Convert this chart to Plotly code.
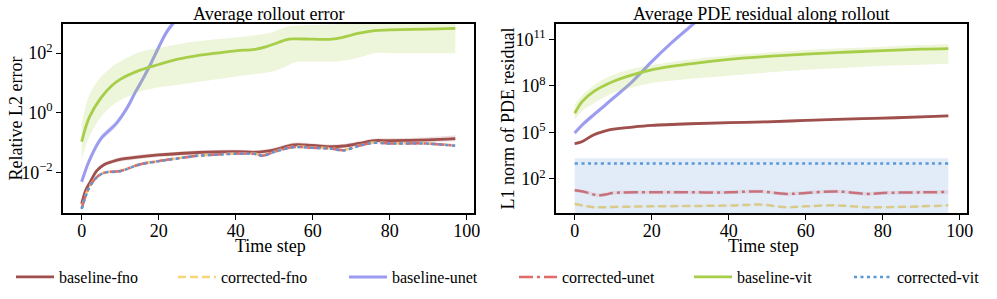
import plotly.graph_objects as go

# ---------------- data ----------------
# Left panel: Average rollout error (Relative L2 error)
T_FNO_L = [0, 1, 2, 4, 6, 8, 10, 15, 20, 30, 40, 45, 47, 50, 55, 60, 65, 68, 72, 76, 80, 90, 97]
FNO_L = [8.7e-4, 2.4e-3, 4.2e-3, 1.15e-2, 1.85e-2, 2.29e-2, 2.7e-2, 3.3e-2, 3.8e-2, 4.6e-2, 4.9e-2,
         4.68e-2, 4.9e-2, 5.6e-2, 8.3e-2, 7.9e-2, 7.2e-2, 7.6e-2, 9.3e-2, 0.115, 0.115, 0.123, 0.135]
FNO_L_LO = [7.2e-4, 2.0e-3, 3.5e-3, 9.8e-3, 1.58e-2, 1.95e-2, 2.3e-2, 2.8e-2, 3.25e-2, 3.9e-2, 4.2e-2,
            4.0e-2, 4.2e-2, 4.8e-2, 7.1e-2, 6.7e-2, 6.1e-2, 6.5e-2, 7.9e-2, 9.7e-2, 9.7e-2, 0.102, 0.11]
FNO_L_HI = [1.05e-3, 2.9e-3, 5.0e-3, 1.36e-2, 2.18e-2, 2.7e-2, 3.2e-2, 3.9e-2, 4.45e-2, 5.4e-2, 5.7e-2,
            5.5e-2, 5.7e-2, 6.6e-2, 9.7e-2, 9.3e-2, 8.5e-2, 8.9e-2, 0.109, 0.137, 0.138, 0.15, 0.17]

T_COR_L = [0, 1, 2, 4, 6, 10, 15, 20, 25, 30, 35, 40, 45, 47, 50, 55, 60, 65, 68, 72, 76, 80, 90, 97]
CFNO_L = [6.2e-4, 1.6e-3, 3.3e-3, 7.1e-3, 9.8e-3, 1.1e-2, 1.85e-2, 2.4e-2, 2.95e-2, 3.63e-2, 3.98e-2, 4.27e-2,
          4.2e-2, 3.7e-2, 4.9e-2, 7.2e-2, 6.8e-2, 6.3e-2, 5.6e-2, 7.9e-2, 0.1, 9.5e-2, 9.3e-2, 7.9e-2]
CUNET_L = [6.0e-4, 1.55e-3, 3.2e-3, 7.0e-3, 9.7e-3, 1.1e-2, 1.82e-2, 2.36e-2, 2.92e-2, 3.58e-2, 3.93e-2, 4.2e-2,
           4.13e-2, 3.6e-2, 4.85e-2, 7.0e-2, 6.6e-2, 6.2e-2, 5.5e-2, 7.8e-2, 9.8e-2, 9.3e-2, 9.2e-2, 7.8e-2]
CUNET_L_LO = [5.2e-4, 1.35e-3, 2.8e-3, 6.2e-3, 8.5e-3, 9.7e-3, 1.6e-2, 2.08e-2, 2.57e-2, 3.15e-2, 3.46e-2, 3.7e-2,
              3.63e-2, 3.17e-2, 4.3e-2, 6.2e-2, 5.8e-2, 5.5e-2, 4.85e-2, 6.9e-2, 8.6e-2, 8.2e-2, 8.1e-2, 6.9e-2]
CUNET_L_HI = [6.9e-4, 1.78e-3, 3.6e-3, 7.9e-3, 1.1e-2, 1.25e-2, 2.06e-2, 2.67e-2, 3.3e-2, 4.05e-2, 4.44e-2, 4.75e-2,
              4.67e-2, 4.07e-2, 5.5e-2, 7.9e-2, 7.5e-2, 7.0e-2, 6.2e-2, 8.8e-2, 0.111, 0.105, 0.104, 8.8e-2]
CVIT_L = [5.9e-4, 1.5e-3, 3.1e-3, 6.9e-3, 9.6e-3, 1.08e-2, 1.8e-2, 2.34e-2, 2.9e-2, 3.55e-2, 3.9e-2, 4.17e-2,
          4.1e-2, 3.57e-2, 4.8e-2, 6.9e-2, 6.6e-2, 6.1e-2, 5.4e-2, 7.7e-2, 9.7e-2, 9.2e-2, 9.1e-2, 7.7e-2]

T_UNET_L = [0, 2, 5, 7, 9, 12, 14, 16, 18, 20, 22, 24, 26, 28]
UNET_L = [4.8e-3, 0.025, 0.135, 0.245, 0.437, 1.62, 5.1, 14.5, 45.7, 158, 500, 1120, 2500, 6300]
UNET_L_LO = [3.7e-3, 0.0195, 0.105, 0.19, 0.34, 1.26, 4.0, 11.3, 35.6, 123, 390, 874, 1950, 4900]
UNET_L_HI = [6.1e-3, 0.032, 0.173, 0.314, 0.56, 2.07, 6.5, 18.6, 58.5, 202, 640, 1430, 3200, 8060]

T_VIT_L = [0, 2, 5, 8, 10, 15, 20, 25, 30, 35, 40, 45, 48, 50, 53, 55, 60, 65, 68, 72, 76, 80, 90, 97]
VIT_L = [0.107, 0.71, 3.16, 8.5, 13.2, 26.3, 41.7, 63, 83, 100, 120, 135, 166, 204, 282, 302, 295, 295,
         347, 468, 575, 603, 646, 676]
VIT_L_LO = [0.026, 0.158, 0.71, 1.78, 2.63, 5.0, 7.1, 8.7, 10.7, 13.2, 16.6, 20, 22.4, 25.1, 35.5, 48, 52, 52,
            56, 71, 100, 100, 100, 100]
VIT_L_HI = [0.4, 4.0, 15.8, 35.5, 52, 107, 148, 200, 251, 295, 339, 400, 457, 537, 760, 830, 890, 930,
            1100, 1400, 1600, 1600, 1600, 1600]

# Right panel: Average PDE residual along rollout (L1 norm)
T_FNO_R = [0, 2, 5, 8, 10, 15, 20, 30, 40, 50, 60, 70, 80, 90, 97]
FNO_R = [1.86e4, 2.6e4, 7.1e4, 1.26e5, 1.6e5, 2.2e5, 2.8e5, 3.6e5, 4.2e5, 4.8e5, 5.9e5, 7.1e5, 8.3e5, 1.0e6, 1.17e6]
FNO_R_LO = [1.5e4, 2.1e4, 5.8e4, 1.03e5, 1.3e5, 1.8e5, 2.3e5, 2.95e5, 3.4e5, 3.9e5, 4.8e5, 5.8e5, 6.8e5, 8.2e5, 9.4e5]
FNO_R_HI = [2.25e4, 3.1e4, 8.6e4, 1.52e5, 1.95e5, 2.65e5, 3.4e5, 4.35e5, 5.1e5, 5.8e5, 7.1e5, 8.6e5, 1.0e6, 1.22e6, 1.42e6]

T_CFNO_R = [0, 3, 5, 10, 20, 40, 48, 55, 60, 68, 76, 90, 97]
CFNO_R = [2.57, 1.74, 1.51, 1.58, 1.74, 1.95, 2.24, 1.51, 1.74, 2.0, 1.51, 1.74, 2.0]
CFNO_R_LO = [2.3, 1.57, 1.36, 1.42, 1.57, 1.75, 2.0, 1.36, 1.57, 1.8, 1.36, 1.57, 1.8]
CFNO_R_HI = [2.85, 1.93, 1.68, 1.75, 1.93, 2.16, 2.48, 1.68, 1.93, 2.22, 1.68, 1.93, 2.22]

T_UNET_R = [0, 2, 5, 8, 10, 15, 20, 25, 30, 35]
UNET_R = [9.1e4, 3.1e5, 1.4e6, 6e6, 1.6e7, 1.9e8, 3.6e9, 5.5e10, 6.5e11, 8e12]
UNET_R_LO = [6.4e4, 2.2e5, 9.8e5, 4.2e6, 1.12e7, 1.33e8, 2.5e9, 3.85e10, 4.5e11, 5.6e12]
UNET_R_HI = [1.27e5, 4.3e5, 1.96e6, 8.4e6, 2.24e7, 2.66e8, 5e9, 7.7e10, 9.1e11, 1.12e13]

T_CUNET_R = [0, 3, 6, 8, 10, 20, 30, 40, 48, 55, 60, 68, 76, 80, 90, 97]
CUNET_R = [18.6, 13.8, 8.9, 10, 12.6, 13.8, 13.8, 13.8, 15.8, 11, 12.6, 15.8, 11, 12.6, 13.8, 14.5]
CUNET_R_LO = [14, 10.4, 6.7, 7.5, 9.5, 10.4, 10.4, 10.4, 11.9, 8.3, 9.5, 11.9, 8.3, 9.5, 10.4, 10.9]
CUNET_R_HI = [24.7, 18.4, 11.8, 13.3, 16.8, 18.4, 18.4, 18.4, 21, 14.6, 16.8, 21, 14.6, 16.8, 18.4, 19.3]

T_VIT_R = [0, 2, 5, 10, 15, 20, 30, 40, 50, 60, 70, 80, 90, 97]
VIT_R = [1.7e6, 1e7, 4.4e7, 1.9e8, 5.1e8, 1.07e9, 2.6e9, 5.1e9, 7.8e9, 1.1e10, 1.45e10, 1.86e10, 2.3e10, 2.5e10]
VIT_R_LO = [6.5e5, 2.5e6, 7.6e6, 3.4e7, 7.9e7, 1.5e8, 2.8e8, 4.4e8, 7.1e8, 1.07e9, 1.4e9, 1.95e9, 2.3e9, 2.6e9]
VIT_R_HI = [6e6, 2.5e7, 1.1e8, 5.1e8, 1.26e9, 2.2e9, 5e9, 8.9e9, 1.4e10, 2e10, 2.6e10, 3.3e10, 4.2e10, 4.8e10]

T_CVIT_R = [0, 20, 40, 60, 80, 97]
CVIT_R = [980, 980, 980, 980, 980, 980]
CVIT_R_LO = [1e-3, 1e-3, 1e-3, 1e-3, 1e-3, 1e-3]
CVIT_R_HI = [2.2e3, 2.2e3, 2.2e3, 2.2e3, 2.2e3, 2.2e3]

NAMES = ["baseline-fno", "corrected-fno", "baseline-unet", "corrected-unet", "baseline-vit", "corrected-vit"]
LEFT_TICKS = [1e-2, 1, 1e2]
LEFT_TICKTEXT = ["10<sup>\u22122</sup>", "10<sup>0</sup>", "10<sup>2</sup>"]
RIGHT_TICKS = [1e2, 1e5, 1e8, 1e11]
RIGHT_TICKTEXT = ["10<sup>2</sup>", "10<sup>5</sup>", "10<sup>8</sup>", "10<sup>11</sup>"]
X_TICKS = [0, 20, 40, 60, 80, 100]

# ---------------- styles ----------------
COL = {
    "baseline-fno": (160, 80, 76),
    "corrected-fno": (246, 214, 120),
    "baseline-unet": (155, 156, 240),
    "corrected-unet": (224, 106, 106),
    "baseline-vit": (166, 206, 72),
    "corrected-vit": (88, 152, 216),
}
DASH = {
    "baseline-fno": "solid",
    "corrected-fno": "8px,4px",
    "baseline-unet": "solid",
    "corrected-unet": "14px,4px,3px,4px",
    "baseline-vit": "solid",
    "corrected-vit": "3px,3.5px",
}
WIDTH = {
    "baseline-fno": 2.8, "corrected-fno": 2.5, "baseline-unet": 3.0,
    "corrected-unet": 2.5, "baseline-vit": 2.8, "corrected-vit": 2.5,
}
LEGEND_ID = {n: ("legend" if i == 0 else "legend%d" % (i + 1)) for i, n in enumerate(NAMES)}
LEGEND_X = [11, 173, 344, 514, 689, 849]
FONT = "Liberation Serif, Times New Roman, serif"


def rgba(c, a):
    return "rgba(%d,%d,%d,%s)" % (c[0], c[1], c[2], a)


fig = go.Figure()


def add_band(t, lo, hi, name, xa, ya, alpha=0.2):
    fig.add_trace(go.Scatter(x=t, y=lo, mode="lines", line=dict(width=0, shape="spline"),
                             xaxis=xa, yaxis=ya, showlegend=False, hoverinfo="skip"))
    fig.add_trace(go.Scatter(x=t, y=hi, mode="lines", line=dict(width=0, shape="spline"),
                             fill="tonexty", fillcolor=rgba(COL[name], alpha),
                             xaxis=xa, yaxis=ya, showlegend=False, hoverinfo="skip"))


def add_line(t, v, name, xa, ya, legend):
    fig.add_trace(go.Scatter(x=t, y=v, mode="lines", name=name, legendgroup=name,
                             legend=LEGEND_ID[name],
                             line=dict(color=rgba(COL[name], 1), width=WIDTH[name],
                                       dash=DASH[name], shape="spline", smoothing=1.0),
                             xaxis=xa, yaxis=ya, showlegend=legend))


# left panel
add_band(T_FNO_L, FNO_L_LO, FNO_L_HI, "baseline-fno", "x", "y")
add_line(T_FNO_L, FNO_L, "baseline-fno", "x", "y", True)
add_line(T_COR_L, CFNO_L, "corrected-fno", "x", "y", True)
add_band(T_UNET_L, UNET_L_LO, UNET_L_HI, "baseline-unet", "x", "y")
add_line(T_UNET_L, UNET_L, "baseline-unet", "x", "y", True)
add_band(T_COR_L, CUNET_L_LO, CUNET_L_HI, "corrected-unet", "x", "y", 0.12)
add_line(T_COR_L, CUNET_L, "corrected-unet", "x", "y", True)
add_band(T_VIT_L, VIT_L_LO, VIT_L_HI, "baseline-vit", "x", "y")
add_line(T_VIT_L, VIT_L, "baseline-vit", "x", "y", True)
add_line(T_COR_L, CVIT_L, "corrected-vit", "x", "y", True)

# right panel
add_band(T_FNO_R, FNO_R_LO, FNO_R_HI, "baseline-fno", "x2", "y2")
add_line(T_FNO_R, FNO_R, "baseline-fno", "x2", "y2", False)
add_band(T_CFNO_R, CFNO_R_LO, CFNO_R_HI, "corrected-fno", "x2", "y2", 0.15)
add_line(T_CFNO_R, CFNO_R, "corrected-fno", "x2", "y2", False)
add_band(T_UNET_R, UNET_R_LO, UNET_R_HI, "baseline-unet", "x2", "y2")
add_line(T_UNET_R, UNET_R, "baseline-unet", "x2", "y2", False)
add_band(T_CUNET_R, CUNET_R_LO, CUNET_R_HI, "corrected-unet", "x2", "y2", 0.15)
add_line(T_CUNET_R, CUNET_R, "corrected-unet", "x2", "y2", False)
add_band(T_VIT_R, VIT_R_LO, VIT_R_HI, "baseline-vit", "x2", "y2")
add_line(T_VIT_R, VIT_R, "baseline-vit", "x2", "y2", False)
add_band(T_CVIT_R, CVIT_R_LO, CVIT_R_HI, "corrected-vit", "x2", "y2", 0.18)
add_line(T_CVIT_R, CVIT_R, "corrected-vit", "x2", "y2", False)

W, H = 997, 299
Y0, Y1 = 1 - 213 / H, 1 - 24 / H
axis_common = dict(showline=True, mirror=True, linecolor="black", linewidth=1.5,
                   ticks="outside", ticklen=5, tickwidth=1.2, tickcolor="black",
                   showgrid=False, zeroline=False,
                   tickfont=dict(family=FONT, size=18, color="black"))
x_extra = dict(ticklabelstandoff=-4)

fig.update_layout(
    width=W, height=H, margin=dict(l=0, r=0, t=0, b=0, autoexpand=False),
    paper_bgcolor="white", plot_bgcolor="white",
    font=dict(family=FONT, size=18, color="black"),
    xaxis=dict(domain=[63 / W, 474 / W], range=[-4.85, 101.85], tickvals=X_TICKS, anchor="y",
               **axis_common, **x_extra),
    yaxis=dict(domain=[Y0, Y1], type="log", range=[-3.37, 2.98], tickvals=LEFT_TICKS,
               ticktext=LEFT_TICKTEXT, anchor="x", **axis_common),
    xaxis2=dict(domain=[556 / W, 967 / W], range=[-4.85, 101.85], tickvals=X_TICKS, anchor="y2",
                **axis_common, **x_extra),
    yaxis2=dict(domain=[Y0, Y1], type="log", range=[-0.19, 11.98], tickvals=RIGHT_TICKS,
                ticktext=RIGHT_TICKTEXT, anchor="x2", **axis_common),
    showlegend=True,
)

for i, n in enumerate(NAMES):
    fig.update_layout({LEGEND_ID[n]: dict(
        orientation="h", xref="container", yref="container",
        x=LEGEND_X[i] / W, xanchor="left", y=1 - 277 / H, yanchor="middle",
        font=dict(family=FONT, size=16, color="black"), itemwidth=38,
        bgcolor="rgba(0,0,0,0)")})

ann = [
    dict(text="Average rollout error", x=268.5 / W, y=1 - 14 / H),
    dict(text="Average PDE residual along rollout", x=761.5 / W, y=1 - 14 / H),
    dict(text="Time step", x=270 / W, y=1 - 246 / H),
    dict(text="Time step", x=763 / W, y=1 - 246 / H),
    dict(text="Relative L2 error", x=15 / W, y=1 - 118.5 / H, textangle=-90),
    dict(text="L1 norm of PDE residual", x=507 / W, y=1 - 118.5 / H, textangle=-90),
]
for a in ann:
    fig.add_annotation(xref="paper", yref="paper", showarrow=False, xanchor="center", yanchor="middle",
                       font=dict(family=FONT, size=18, color="black"), **a)

fig.write_html("out.html", config={"displayModeBar": False},
               post_script="document.body.style.margin='0';")
